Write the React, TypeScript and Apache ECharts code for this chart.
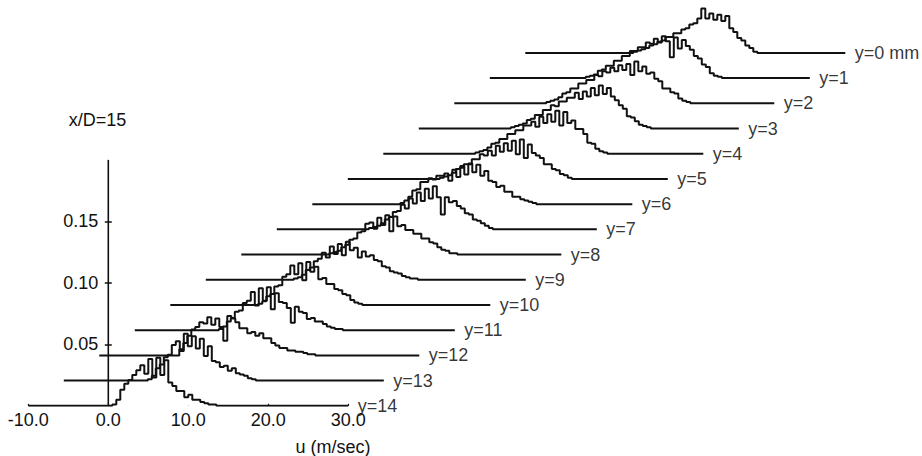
import React, { useEffect, useRef } from "react";
import * as echarts from "echarts";

// Velocity PDF profiles at x/D = 15, one per transverse station y (mm).
// Values are probability densities per 0.5 m/s bin, starting at u = 0 m/s.
const profileLabels = [
  "y=0 mm", "y=1", "y=2", "y=3", "y=4", "y=5", "y=6", "y=7",
  "y=8", "y=9", "y=10", "y=11", "y=12", "y=13", "y=14",
];

const binWidth = 0.5; // m/s

const pdfY0 = [0, 0, 0, 0, 0, 0, 0, 0.001, 0.002, 0.003, 0.004, 0.006, 0.007, 0.009, 0.010, 0.013, 0.013, 0.016, 0.016, 0.019, 0.020, 0.023, 0.024, 0.028, 0.036, 0.028, 0.032, 0.027, 0.031, 0.026, 0.030, 0.020, 0.017, 0.012, 0.010, 0.006, 0.004, 0.001, 0];
const pdfY1 = [0, 0, 0, 0, 0.001, 0.002, 0.003, 0.006, 0.007, 0.010, 0.010, 0.014, 0.014, 0.018, 0.018, 0.022, 0.022, 0.025, 0.025, 0.029, 0.028, 0.032, 0.029, 0.034, 0.030, 0.017, 0.033, 0.024, 0.031, 0.026, 0.023, 0.018, 0.016, 0.011, 0.009, 0.004, 0.002, 0.001, 0];
const pdfY2 = [0, 0, 0, 0.001, 0.002, 0.003, 0.005, 0.008, 0.009, 0.012, 0.012, 0.016, 0.016, 0.019, 0.019, 0.023, 0.022, 0.026, 0.025, 0.029, 0.026, 0.031, 0.027, 0.032, 0.023, 0.034, 0.026, 0.030, 0.024, 0.025, 0.020, 0.018, 0.012, 0.012, 0.009, 0.008, 0.004, 0.002, 0.001, 0];
const pdfY3 = [0, 0, 0, 0.001, 0.002, 0.003, 0.004, 0.007, 0.008, 0.011, 0.011, 0.015, 0.015, 0.019, 0.018, 0.022, 0.022, 0.025, 0.025, 0.029, 0.024, 0.030, 0.026, 0.033, 0.027, 0.035, 0.028, 0.033, 0.026, 0.023, 0.019, 0.016, 0.010, 0.009, 0.006, 0.003, 0.002, 0.001, 0];
const pdfY4 = [0, 0, 0, 0.001, 0.002, 0.003, 0.005, 0.008, 0.009, 0.012, 0.012, 0.016, 0.016, 0.019, 0.019, 0.023, 0.023, 0.026, 0.022, 0.030, 0.025, 0.032, 0.026, 0.035, 0.023, 0.034, 0.025, 0.027, 0.020, 0.020, 0.016, 0.009, 0.008, 0.004, 0.002, 0.001, 0];
const pdfY5 = [0, 0, 0, 0.001, 0.002, 0.003, 0.005, 0.008, 0.009, 0.012, 0.012, 0.016, 0.016, 0.020, 0.019, 0.023, 0.019, 0.027, 0.022, 0.029, 0.023, 0.031, 0.020, 0.032, 0.017, 0.028, 0.021, 0.019, 0.017, 0.012, 0.012, 0.008, 0.007, 0.004, 0.003, 0.001, 0];
const pdfY6 = [0, 0, 0.001, 0.003, 0.006, 0.011, 0.012, 0.018, 0.018, 0.021, 0.020, 0.023, 0.023, 0.025, 0.019, 0.028, 0.022, 0.031, 0.024, 0.033, 0.026, 0.032, 0.023, 0.027, 0.019, 0.018, 0.014, 0.015, 0.010, 0.010, 0.006, 0.006, 0.004, 0.003, 0.002, 0.001, 0];
const pdfY7 = [0, 0, 0, 0.001, 0.002, 0.003, 0.005, 0.008, 0.010, 0.014, 0.015, 0.020, 0.017, 0.025, 0.021, 0.030, 0.023, 0.033, 0.025, 0.035, 0.026, 0.012, 0.026, 0.022, 0.023, 0.019, 0.017, 0.013, 0.012, 0.008, 0.007, 0.005, 0.003, 0.001, 0];
const pdfY8 = [0, 0, 0.001, 0.002, 0.003, 0.006, 0.008, 0.012, 0.013, 0.018, 0.019, 0.025, 0.026, 0.021, 0.030, 0.024, 0.032, 0.019, 0.031, 0.023, 0.024, 0.020, 0.020, 0.017, 0.017, 0.013, 0.013, 0.010, 0.009, 0.006, 0.004, 0.003, 0.001, 0.001, 0];
const pdfY9 = [0, 0, 0.001, 0.002, 0.004, 0.008, 0.010, 0.015, 0.017, 0.022, 0.018, 0.027, 0.021, 0.029, 0.020, 0.031, 0.024, 0.026, 0.018, 0.023, 0.019, 0.020, 0.016, 0.015, 0.011, 0.010, 0.007, 0.006, 0.005, 0.003, 0.002, 0.001, 0.001, 0];
const pdfY10 = [0, 0, 0.001, 0.003, 0.007, 0.009, 0.015, 0.016, 0.023, 0.025, 0.032, 0.025, 0.034, 0.020, 0.035, 0.027, 0.031, 0.021, 0.022, 0.017, 0.017, 0.013, 0.012, 0.009, 0.008, 0.004, 0.002, 0.001, 0];
const pdfY11 = [0, 0.001, 0.003, 0.007, 0.010, 0.015, 0.016, 0.022, 0.024, 0.031, 0.020, 0.034, 0.024, 0.035, 0.017, 0.030, 0.023, 0.022, 0.018, 0.006, 0.019, 0.015, 0.014, 0.009, 0.010, 0.007, 0.007, 0.005, 0.003, 0.002, 0.001, 0.001, 0];
const pdfY12 = [0.005, 0.010, 0.016, 0.021, 0.023, 0.027, 0.026, 0.031, 0.025, 0.030, 0.023, 0.012, 0.032, 0.030, 0.027, 0.022, 0.022, 0.018, 0.019, 0.016, 0.018, 0.014, 0.014, 0.010, 0.008, 0.006, 0.006, 0.004, 0.004, 0.003, 0.003, 0.002, 0.001, 0.001, 0];
const pdfY13 = [0, 0.001, 0.004, 0.010, 0.013, 0.019, 0.021, 0.029, 0.032, 0.024, 0.038, 0.028, 0.036, 0.026, 0.034, 0.020, 0.028, 0.016, 0.015, 0.011, 0.012, 0.008, 0.010, 0.006, 0.005, 0.004, 0.002, 0.001, 0];
const pdfY14 = [0, 0.001, 0.005, 0.013, 0.018, 0.021, 0.025, 0.029, 0.033, 0.026, 0.038, 0.023, 0.039, 0.025, 0.037, 0.019, 0.016, 0.012, 0.012, 0.007, 0.009, 0.005, 0.005, 0.003, 0.002, 0.001, 0.001, 0];

const pdfProfiles = [
  pdfY0, pdfY1, pdfY2, pdfY3, pdfY4, pdfY5, pdfY6, pdfY7,
  pdfY8, pdfY9, pdfY10, pdfY11, pdfY12, pdfY13, pdfY14,
];

const uMin = -10;
const uMax = 30;
const uTickValues = [-10, 0, 10, 20, 30];
const pdfAxisTop = 0.2;
const pdfTickValues = [0.05, 0.1, 0.15];

// Oblique (waterfall) shift applied per station, in axis units.
const SHIFT_U = 4.4375;
const SHIFT_P = 0.0205;

// Full drawing extent of the oblique plot (the stacked profiles run far past the axes).
const VIEW_U_MAX = 102;
const VIEW_P_MAX = 0.33;

const FONT = '"Liberation Sans", Arial, Helvetica, sans-serif';
const INK = "#111111";

export default function App() {
  const ref = useRef<HTMLDivElement>(null);

  useEffect(() => {
    if (!ref.current) return;
    const chart = echarts.init(ref.current, null, { renderer: "svg" });
    const n = pdfProfiles.length;

    const axisLineSeries = {
      type: "line",
      silent: true,
      symbol: "none",
      data: [[0, 0], [0, pdfAxisTop]],
      lineStyle: { color: INK, width: 1.6 },
      z: 1,
    };

    const lineSeries: any[] = pdfProfiles.map((pdf, k) => {
      const s = n - 1 - k;
      const du = s * SHIFT_U;
      const dp = s * SHIFT_P;
      const pts: number[][] = [[uMin + du, dp]];
      pdf.forEach((v, i) => pts.push([i * binWidth + du, dp + v]));
      pts.push([pdf.length * binWidth + du, dp]);
      pts.push([uMax + du, dp]);
      return {
        type: "line",
        name: profileLabels[k],
        data: pts,
        step: "end",
        symbol: "none",
        silent: true,
        lineStyle: { color: INK, width: 2 },
        areaStyle: { color: "#ffffff", opacity: 1, origin: dp },
        z: 2,
      };
    });

    const labelSeries = {
      type: "scatter",
      silent: true,
      symbolSize: 1,
      itemStyle: { color: "transparent" },
      z: 5,
      data: profileLabels.map((name, k) => {
        const s = n - 1 - k;
        return { name, value: [uMax + s * SHIFT_U, s * SHIFT_P] };
      }),
      label: {
        show: true,
        position: "right",
        distance: 9,
        formatter: "{b}",
        fontSize: 18,
        fontFamily: FONT,
        color: "#000",
      },
    };

    const yAxisBase = {
      type: "value",
      min: 0,
      max: VIEW_P_MAX,
      position: "left",
      offset: -80,
      splitLine: { show: false },
      axisLine: { show: false, onZero: false },
    };

    chart.setOption({
      animation: false,
      backgroundColor: "#ffffff",
      grid: {
        left: 28.3,
        top: 0,
        width: 896,
        height: 405.8,
        containLabel: false,
        outerBoundsMode: "none",
      },
      xAxis: {
        type: "value",
        min: uMin,
        max: VIEW_U_MAX,
        splitLine: { show: false },
        axisLine: { show: false },
        axisTick: {
          show: true,
          inside: true,
          length: 2,
          customValues: uTickValues,
          lineStyle: { color: INK, width: 1.2 },
        },
        axisLabel: {
          margin: 5,
          fontSize: 18,
          fontFamily: FONT,
          color: INK,
          customValues: uTickValues,
          formatter: (v: number) => v.toFixed(1),
        },
      },
      yAxis: [
        {
          ...yAxisBase,
          axisTick: { show: true, length: 3.5, customValues: pdfTickValues, lineStyle: { color: INK, width: 1.5 } },
          axisLabel: {
            show: true,
            margin: 10,
            fontSize: 18,
            fontFamily: FONT,
            color: INK,
            customValues: pdfTickValues,
            formatter: (v: number) => v.toFixed(2),
          },
        },
        {
          ...yAxisBase,
          axisTick: { show: true, inside: true, length: 3.5, customValues: pdfTickValues, lineStyle: { color: INK, width: 1.5 } },
          axisLabel: { show: false },
        },
      ],
      graphic: [
        {
          type: "text",
          x: 97.5,
          y: 119.5,
          style: {
            text: "x/D=15",
            align: "center",
            verticalAlign: "middle",
            textAlign: "center",
            textVerticalAlign: "middle",
            font: `18px ${FONT}`,
            fill: INK,
          },
        },
        {
          type: "text",
          x: 333,
          y: 447,
          style: {
            text: "u (m/sec)",
            align: "center",
            verticalAlign: "middle",
            textAlign: "center",
            textVerticalAlign: "middle",
            font: `18px ${FONT}`,
            fill: INK,
          },
        },
      ],
      series: [axisLineSeries, ...lineSeries, labelSeries],
    });

    return () => chart.dispose();
  }, []);

  return (
    <div
      ref={ref}
      style={{ position: "absolute", left: 0, top: 0, width: 922, height: 456, background: "#fff" }}
    />
  );
}
